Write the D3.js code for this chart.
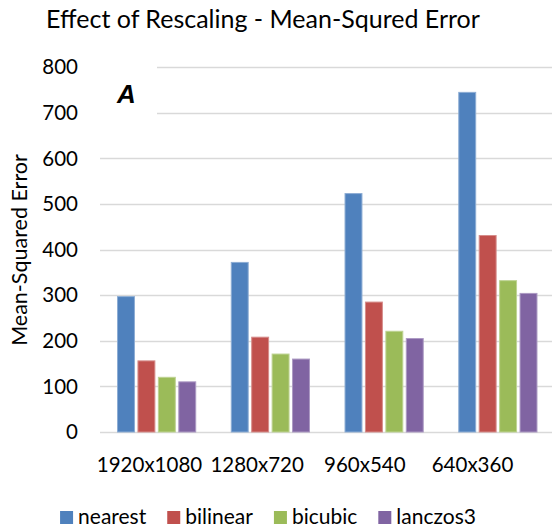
<!DOCTYPE html>
<html>
<head>
<meta charset="utf-8">
<script src="https://cdn.jsdelivr.net/npm/d3@7"></script>
<style>
  body { margin: 0; background: #fff; }
  text { font-family: Lato, "Open Sans", sans-serif; fill: #000; }
</style>
</head>
<body>
<div id="chart"></div>
<script>
// data
var resolutions = ["1920x1080", "1280x720", "960x540", "640x360"];
var methods = ["nearest", "bilinear", "bicubic", "lanczos3"];
var colors = ["#4F81BD", "#C0504D", "#9BBB59", "#8064A2"];
var nearest = [297, 372, 523, 745];
var bilinear = [156, 208, 285, 431];
var bicubic = [120, 171, 221, 332];
var lanczos3 = [110, 160, 205, 304];
var yTicks = [0, 100, 200, 300, 400, 500, 600, 700, 800];

var seriesValues = [nearest, bilinear, bicubic, lanczos3];

var W = 552, H = 528;
var plot = {left: 101, right: 556, top: 67.3, bottom: 432};

var svg = d3.select("#chart")
  .append("svg")
    .attr("width", W)
    .attr("height", H);

// scales
var y = d3.scaleLinear()
  .domain([0, 800])
  .range([plot.bottom, plot.top]);

var x0 = d3.scaleBand()
  .domain(resolutions)
  .range([plot.left, plot.right])
  .paddingInner(0)
  .paddingOuter(0);

var groupW = 81.7;
var x1 = d3.scaleBand()
  .domain(methods)
  .range([0, groupW]);

// category labels sit a little left of the groups in the original
var xLabel = d3.scalePoint()
  .domain(resolutions)
  .range([149.5, 472.5]);

// gridlines
svg.append("g")
  .selectAll("line")
  .data(yTicks)
  .enter()
  .append("line")
    .attr("x1", 100)
    .attr("x2", W)
    .attr("y1", function(d) { return Math.round(y(d)) + 0.5; })
    .attr("y2", function(d) { return Math.round(y(d)) + 0.5; })
    .style("stroke", "#d9d9d9")
    .style("stroke-width", 1.3);

// box of the "A" label hides the top gridlines
svg.append("rect")
  .attr("x", 99)
  .attr("y", 60)
  .attr("width", 58)
  .attr("height", 58)
  .style("fill", "#fff");

svg.append("text")
  .attr("x", 117)
  .attr("y", 102.5)
  .style("font-family", "'Liberation Sans', Arial, sans-serif")
  .style("font-weight", "bold")
  .style("font-style", "italic")
  .style("font-size", "26px")
  .text("A");

// y tick labels
svg.append("g")
  .selectAll("text")
  .data(yTicks)
  .enter()
  .append("text")
    .attr("x", 78)
    .attr("y", function(d) { return y(d); })
    .attr("dy", "0.35em")
    .attr("text-anchor", "end")
    .style("font-size", "20.5px")
    .text(function(d) { return d; });

// bars
var groups = svg.append("g")
  .selectAll("g")
  .data(resolutions)
  .enter()
  .append("g")
    .attr("transform", function(d) {
      return "translate(" + (x0(d) + (x0.bandwidth() - groupW) / 2) + ",0)";
    });

groups.selectAll("rect")
  .data(function(d, i) {
    return methods.map(function(m, j) { return {method: m, value: seriesValues[j][i], color: colors[j]}; });
  })
  .enter()
  .append("rect")
    .attr("x", function(d) { return x1(d.method) + 0.5; })
    .attr("y", function(d) { return y(d.value); })
    .attr("width", x1.bandwidth() - 3.5)
    .attr("height", function(d) { return y(0) - y(d.value); })
    .style("fill", function(d) { return d.color; })
    .style("stroke", function(d) { return d3.interpolateRgb(d.color, "#fff")(0.35); })
    .style("stroke-width", 1);

// x labels
svg.append("g")
  .selectAll("text")
  .data(resolutions)
  .enter()
  .append("text")
    .attr("x", function(d) { return xLabel(d); })
    .attr("y", 471.5)
    .attr("text-anchor", "middle")
    .style("font-size", "20.5px")
    .text(function(d) { return d; });

// title
svg.append("text")
  .attr("x", 263)
  .attr("y", 28)
  .attr("text-anchor", "middle")
  .style("font-size", "25px")
  .text("Effect of Rescaling - Mean-Squred Error");

// y axis title
svg.append("text")
  .attr("transform", "rotate(-90)")
  .attr("x", -250)
  .attr("y", 27)
  .attr("text-anchor", "middle")
  .style("font-size", "21.5px")
  .text("Mean-Squared Error");

// legend
var legend = svg.append("g");
var items = legend.selectAll("g")
  .data(methods)
  .enter()
  .append("g");

items.append("rect")
  .attr("x", 0)
  .attr("y", 511)
  .attr("width", 13)
  .attr("height", 13)
  .style("fill", function(d, i) { return colors[i]; });

items.append("text")
  .attr("x", 18)
  .attr("y", 523.5)
  .style("font-size", "21px")
  .text(function(d) { return d; });

var gap = 21;
var pos = 0;
items.each(function() {
  d3.select(this).attr("transform", "translate(" + pos + ",0)");
  pos += 18 + d3.select(this).select("text").node().getComputedTextLength() + gap;
});
var totalW = pos - gap;
legend.attr("transform", "translate(" + (268 - totalW / 2) + ",0)");
</script>
</body>
</html>
